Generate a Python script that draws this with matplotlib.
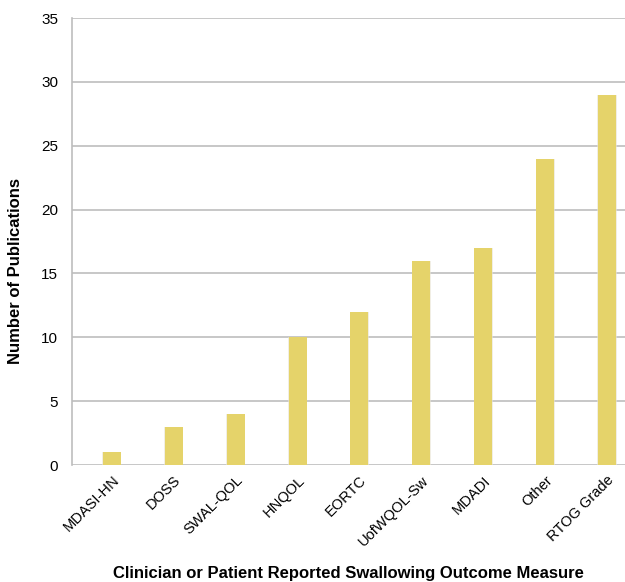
import numpy as np
import matplotlib.pyplot as plt

plt.rcParams['font.family'] = ['Liberation Sans', 'DejaVu Sans']

measures = ["MDASI-HN", "DOSS", "SWAL-QOL", "HNQOL", "EORTC",
            "UofWQOL-Sw", "MDADI", "Other", "RTOG Grade"]
publications = [1, 3, 4, 10, 12, 16, 17, 24, 29]

fig = plt.figure(figsize=(6.25, 5.82), dpi=100)
ax = fig.add_axes([0.115, 0.201, 0.885, 0.768])

x = np.arange(len(measures))
# faint halo behind each bar
ax.bar(x, publications, 0.31, color='#e8e4d2', alpha=0.6, zorder=2)
ax.bar(x, publications, 0.29, color='#E5D36A', zorder=3)

ax.set_ylim(0, 35)
ax.set_xlim(-0.646, 8.29)
ax.set_yticks(np.arange(0, 36, 5))
ax.yaxis.grid(True, color='#bdbdbd', linewidth=1.2, zorder=0)
ax.set_axisbelow(True)
for s in ['top', 'right', 'bottom']:
    ax.spines[s].set_visible(False)
ax.spines['left'].set_color('#bdbdbd')
ax.spines['left'].set_linewidth(1.2)
ax.tick_params(axis='y', length=0, labelsize=11, pad=10)
ax.tick_params(axis='x', length=0, labelsize=10.5, pad=6)

ax.set_xticks(x)
ax.set_xticklabels(measures, rotation=45, ha='right', rotation_mode='anchor')

ax.set_ylabel("Number of Publications", fontsize=12, fontweight='bold')
ax.yaxis.set_label_coords(-0.088, 0.434)
ax.set_xlabel("Clinician or Patient Reported Swallowing Outcome Measure",
              fontsize=12, fontweight='bold', labelpad=12)

fig.savefig("out.png", dpi=100)
